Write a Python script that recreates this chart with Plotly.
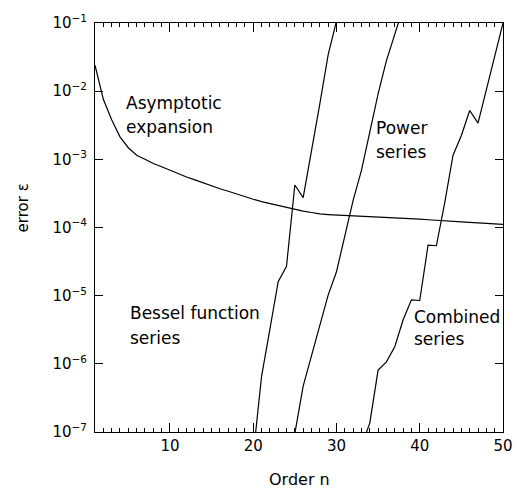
import plotly.graph_objects as go

# ---- data ----
asym_n = list(range(1, 51))
asym_err = [2.4e-2, 7.6e-3, 3.8e-3, 2.14e-3, 1.48e-3, 1.15e-3, 1.0e-3, 8.7e-4, 7.8e-4, 6.9e-4,
            6.2e-4, 5.5e-4, 5.0e-4, 4.5e-4, 4.1e-4, 3.7e-4, 3.4e-4, 3.1e-4, 2.8e-4, 2.6e-4,
            2.4e-4, 2.24e-4, 2.09e-4, 1.95e-4, 1.82e-4, 1.74e-4, 1.66e-4, 1.58e-4, 1.55e-4, 1.53e-4,
            1.51e-4, 1.50e-4, 1.48e-4, 1.46e-4, 1.44e-4, 1.42e-4, 1.40e-4, 1.38e-4, 1.36e-4, 1.33e-4,
            1.30e-4, 1.27e-4, 1.25e-4, 1.23e-4, 1.21e-4, 1.19e-4, 1.17e-4, 1.15e-4, 1.13e-4, 1.11e-4]

bessel_n = list(range(20, 31))
bessel_err = [4.5e-8, 6.5e-7, 3.2e-6, 1.6e-5, 2.7e-5, 4.2e-4, 2.75e-4, 1.3e-3, 6.5e-3, 3.4e-2, 0.107]

power_n = list(range(24, 39))
power_err = [1e-8, 9.5e-8, 4.7e-7, 1.32e-6, 3.7e-6, 1.02e-5, 2.24e-5, 7.6e-5, 2.5e-4, 6.9e-4,
             2.45e-3, 9.1e-3, 2.8e-2, 6.9e-2, 0.166]

comb_n = list(range(33, 51))
comb_err = [6.3e-8, 1.35e-7, 8.1e-7, 1.07e-6, 1.78e-6, 4.4e-6, 8.7e-6, 8.5e-6, 5.5e-5, 5.4e-5,
            2.3e-4, 1.15e-3, 2.24e-3, 5.2e-3, 3.4e-3, 1.07e-2, 3.4e-2, 0.1]

y_tickvals = [1e-7, 1e-6, 1e-5, 1e-4, 1e-3, 1e-2, 1e-1]
y_ticktext = ["10<sup>\u22127</sup>", "10<sup>\u22126</sup>", "10<sup>\u22125</sup>",
              "10<sup>\u22124</sup>", "10<sup>\u22123</sup>", "10<sup>\u22122</sup>",
              "10<sup>\u22121</sup>"]
x_tickvals = [10, 20, 30, 40, 50]

FONT = "DejaVu Sans"

fig = go.Figure()
for xs, ys in [(asym_n, asym_err), (bessel_n, bessel_err), (power_n, power_err), (comb_n, comb_err)]:
    fig.add_trace(go.Scatter(x=xs, y=ys, mode="lines", cliponaxis=True,
                             line=dict(color="black", width=1.2), showlegend=False,
                             hoverinfo="skip"))
# invisible trace to activate the top axis (for mirrored minor ticks)
fig.add_trace(go.Scatter(x=[asym_n[0]], y=[asym_err[0]], xaxis="x2", mode="markers",
                         marker=dict(opacity=0), showlegend=False, hoverinfo="skip"))

labels = [
    ("Asymptotic", 4.63, -2.17), ("expansion", 4.63, -2.53),
    ("Power", 34.6, -2.54), ("series", 34.6, -2.89),
    ("Bessel function", 5.11, -5.26), ("series", 5.11, -5.62),
    ("Combined", 39.2, -5.32), ("series", 39.2, -5.64),
]
for txt, xx, yy in labels:
    fig.add_annotation(x=xx, y=yy, text=txt, showarrow=False, xanchor="left", yanchor="middle",
                       xshift=-1, font=dict(family=FONT, size=17, color="black"))

fig.add_annotation(xref="paper", yref="paper", x=-0.1755, y=0.5476, text="error \u03b5",
                   textangle=-90, showarrow=False, xanchor="center", yanchor="middle",
                   font=dict(family=FONT, size=15, color="black"))
fig.add_annotation(xref="paper", yref="paper", x=0.5, y=-0.1165, text="Order n",
                   showarrow=False, xanchor="center", yanchor="middle",
                   font=dict(family=FONT, size=16, color="black"))

tick_common = dict(ticks="inside", tickwidth=1, tickcolor="black", showgrid=False, zeroline=False,
                   automargin=False)
minor_x = dict(dtick=1, tick0=0, ticks="inside", ticklen=4, tickcolor="black", tickwidth=1,
               showgrid=False)

fig.update_layout(
    xaxis=dict(range=[1, 50], tickvals=x_tickvals, ticklen=9, showline=True, linecolor="black",
               linewidth=1, mirror=True, minor=minor_x,
               tickfont=dict(family=FONT, size=15, color="black"), **tick_common),
    xaxis2=dict(range=[1, 50], tickvals=x_tickvals, ticklen=9, overlaying="x", side="top",
                showticklabels=False, showline=False, minor=minor_x, **tick_common),
    yaxis=dict(type="log", range=[-7, -1], tickvals=y_tickvals, ticktext=y_ticktext,
               ticklen=8, showline=True, linecolor="black", linewidth=1, mirror="ticks",
               ticklabelstandoff=4, tickfont=dict(family=FONT, size=15, color="black"),
               **tick_common),
    width=516, height=491, margin=dict(l=95, r=13, t=23, b=59),
    plot_bgcolor="white", paper_bgcolor="white",
)
fig.write_html("out.html", config={"displayModeBar": False},
               post_script="document.body.style.margin='0px';document.body.style.overflow='hidden';")
